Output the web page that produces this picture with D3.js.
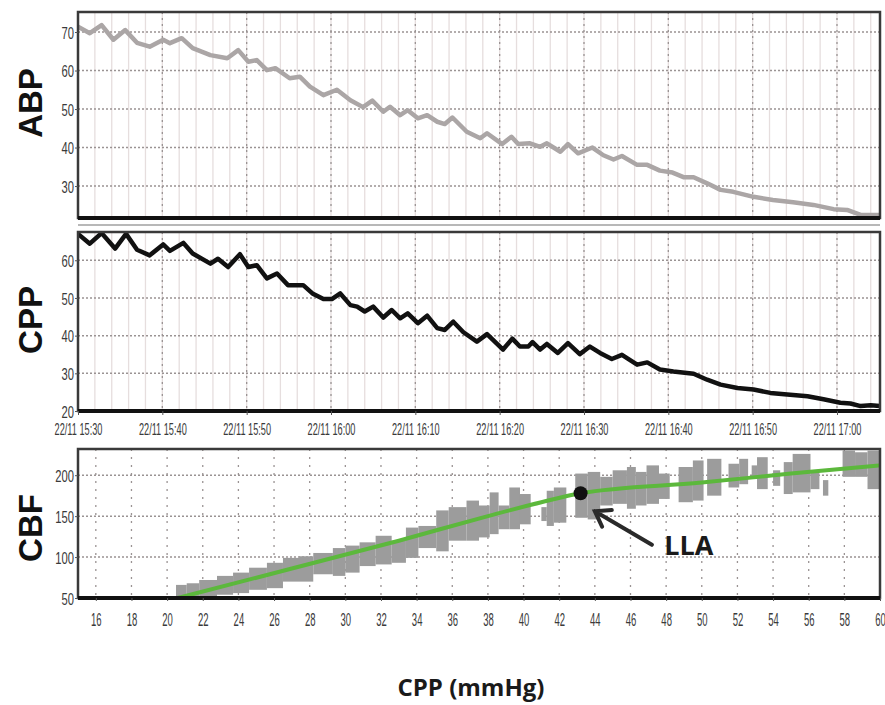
<!DOCTYPE html>
<html>
<head>
<meta charset="utf-8">
<script src="https://cdn.jsdelivr.net/npm/d3@7"></script>
<style>
body { margin: 0; background: #fff; }
svg { display: block; }
.tick text { fill: #3a3a3a; font-family: "Liberation Sans", Arial, sans-serif; }
.tick line { stroke: #555; }
</style>
</head>
<body>
<svg id="chart" width="885" height="705"></svg>
<script>
// monitoring traces + autoregulation curve

// ABP trace, minutes after 22/11 15:30
var abpMin = [0, 1.4, 2.8, 4.2, 5.6, 7.0, 8.5, 10.1, 10.9, 12.3, 13.6, 15.7, 17.7, 19.0, 20.2, 21.2,
    22.4, 23.4, 25.1, 26.3, 27.5, 29.1, 30.7, 32.3, 33.8, 34.9, 36.2, 37.0, 38.2, 39.1, 40.3, 41.4,
    42.6, 43.5, 44.4, 46.1, 47.7, 48.5, 50.3, 51.4, 52.2, 53.6, 54.8, 55.6, 57.2, 58.1, 59.3, 61.0,
    62.3, 63.5, 64.5, 66.3, 67.5, 69.0, 70.5, 71.8, 73.0, 74.6, 76.2, 77.7, 80.1, 82.4, 84.8, 87.2,
    89.6, 91.2, 92.8, 95.1];
var abpVal = [71.4, 69.7, 71.8, 68, 70.5, 67.2, 66.2, 68, 67.1, 68.4, 65.8, 64, 63.2, 65.3, 62.3, 62.7,
    60.1, 60.6, 58, 58.4, 55.8, 53.6, 55, 52.3, 50.5, 52.2, 49.3, 50.6, 48.4, 49.7, 47.6, 48.4,
    46.7, 46.1, 47.8, 44.1, 42.4, 43.7, 40.9, 42.8, 40.9, 41.1, 40.2, 41.1, 38.9, 40.9, 38.5, 40,
    38, 36.9, 37.8, 35.5, 35.5, 34, 33.5, 32.3, 32.3, 30.7, 29, 28.5, 27.2, 26.4, 25.8, 25.1,
    24, 23.8, 22.5, 22.5];

// CPP trace, minutes after 22/11 15:30
var cppMin = [0, 1.4, 2.8, 4.4, 5.7, 7.0, 8.5, 10.1, 10.9, 12.5, 13.6, 15.7, 16.6, 17.8, 19.2, 20.2,
    21.2, 22.4, 23.6, 24.9, 26.7, 27.8, 29.1, 30.1, 31.1, 32.3, 33.1, 34.0, 35.0, 36.2, 37.2, 38.2,
    39.1, 40.3, 41.4, 42.6, 43.5, 44.5, 45.7, 47.3, 48.5, 50.4, 51.5, 52.4, 53.4, 53.9, 54.8, 55.6,
    56.9, 58.1, 59.5, 60.7, 61.9, 63.3, 64.5, 66.3, 67.5, 69.0, 70.6, 72.2, 73.0, 74.6, 76.2, 78.2,
    80.1, 82.1, 84.1, 86.5, 88.4, 90.4, 91.6, 92.8, 94.0, 95.1];
var cppVal = [67, 64.4, 67.2, 63.1, 67, 62.8, 61.3, 64.2, 62.5, 64.6, 61.8, 59.1, 60.4, 58.2, 61.6, 58.2,
    58.7, 55.2, 56.5, 53.4, 53.4, 51.2, 49.7, 49.7, 51.2, 48.1, 47.7, 46.4, 47.7, 44.8, 46.8, 44.6,
    45.9, 43.3, 45.3, 42, 41.5, 43.7, 40.9, 38.4, 40.4, 36.3, 39.2, 37.1, 37.1, 38.3, 36.3, 37.8,
    35.4, 38, 35.1, 37.1, 35.4, 33.8, 34.9, 32.3, 32.9, 31, 30.5, 30.1, 29.9, 28.3, 27, 26.1,
    25.7, 24.8, 24.4, 23.9, 23.1, 22.2, 22, 21.3, 21.5, 21.3];

// CBF vs CPP blocks (CPP from/to, CBF low/high)
var cbfFrom = [20.5, 21.1, 21.8, 22.8, 23.7, 24.6, 25.6, 26.5, 27.4, 28.2, 29.3, 30.0, 30.8, 31.7, 32.6, 33.4,
    34.1, 35.1, 35.8, 36.8, 37.5, 38.1, 38.6, 39.2, 39.8, 41.0, 41.3, 41.7, 42.9, 43.6, 44.3, 45.0,
    45.8, 46.3, 46.9, 47.6, 48.7, 49.5, 50.3, 51.5, 52.1, 52.8, 53.1, 54.0, 54.6, 55.1, 56.1, 56.8,
    57.9, 58.6, 59.3];
var cbfTo = [21.1, 21.8, 22.8, 23.7, 24.6, 25.6, 26.5, 27.4, 28.2, 29.3, 30.0, 30.8, 31.7, 32.6, 33.4, 34.1,
    35.1, 35.8, 36.8, 37.5, 38.1, 38.6, 39.2, 39.8, 40.4, 41.3, 41.7, 42.4, 43.6, 44.3, 45.0, 45.8,
    46.3, 46.9, 47.6, 48.2, 49.5, 50.1, 51.1, 52.1, 52.6, 53.1, 53.7, 54.4, 55.1, 56.1, 56.6, 57.1,
    58.6, 59.3, 60.0];
var cbfLow = [48, 50, 52, 54, 56, 60, 62, 70, 70, 79, 77, 81, 89, 91, 93, 99,
    111, 107, 120, 120, 124, 128, 134, 134, 140, 144, 138, 142, 148, 146, 163, 165,
    159, 163, 165, 171, 167, 169, 175, 185, 189, 198, 183, 187, 177, 179, 183, 175,
    198, 198, 183];
var cbfHigh = [66, 68, 72, 77, 81, 87, 93, 99, 101, 105, 111, 114, 118, 126, 120, 136,
    138, 157, 161, 169, 163, 179, 163, 185, 177, 161, 181, 185, 202, 204, 198, 206,
    210, 204, 212, 202, 210, 218, 220, 214, 220, 212, 222, 206, 216, 226, 204, 194,
    230, 228, 230];

// fitted curve
var fitCpp = [20.6, 27, 33, 38, 41, 43.2, 50, 55, 60];
var fitCbf = [50, 86, 120, 150, 167, 178, 191, 202, 212];
var llaPoint = [43.2, 178];

var abpTicks = [30, 40, 50, 60, 70],
    cppTicks = [20, 30, 40, 50, 60],
    cbfTicks = [50, 100, 150, 200],
    cppAxisTicks = d3.range(16, 61, 2);

var svg = d3.select("#chart"),
    left = 78,
    right = 880;

var base = new Date(2021, 10, 22, 15, 30);
function toTime(m) { return new Date(base.getTime() + m * 60000); }

var x = d3.scaleTime().domain([toTime(0), toTime(95.1)]).range([left, right]);
var yAbp = d3.scaleLinear().domain([21.7, 75.2]).range([218, 12]);
var yCpp = d3.scaleLinear().domain([20, 67.5]).range([411, 232]);
var xCbf = d3.scaleLinear().domain([15, 60]).range([left, right]);
var yCbf = d3.scaleLinear().domain([50, 232]).range([598, 449]);

function drawFrame(g, y0, y1) {
    g.append("rect")
        .attr("x", left).attr("y", y0)
        .attr("width", right - left).attr("height", y1 - y0)
        .attr("fill", "none")
        .attr("stroke", "#3a3a3a")
        .attr("stroke-width", 2.5);
    g.append("line")
        .attr("x1", left).attr("x2", right)
        .attr("y1", y1).attr("y2", y1)
        .attr("stroke", "#111")
        .attr("stroke-width", 4);
}

function leftAxis(g, yScale, ticks) {
    var ax = g.append("g")
        .attr("transform", "translate(" + left + ",0)")
        .call(d3.axisLeft(yScale).tickValues(ticks).tickSize(3).tickSizeOuter(0));
    ax.select(".domain").remove();
    ax.selectAll("text")
        .attr("x", 0)
        .attr("dy", "0.36em")
        .attr("font-size", 17)
        .attr("transform", "translate(-4,0) scale(0.66,1)");
}

function timePanel(yScale, ticks, mins, vals, color, id) {
    var y0 = yScale.range()[1], y1 = yScale.range()[0];
    var g = svg.append("g");

    g.append("clipPath").attr("id", id)
        .append("rect")
        .attr("x", left).attr("y", y0)
        .attr("width", right - left).attr("height", y1 - y0);

    // minor verticals every 2 min
    g.selectAll(".minor")
        .data(x.ticks(d3.timeMinute.every(2)))
        .enter().append("line")
        .attr("x1", function(d) { return x(d); })
        .attr("x2", function(d) { return x(d); })
        .attr("y1", y0).attr("y2", y1)
        .attr("stroke", "#e6dede")
        .attr("stroke-width", 1.3);

    // major verticals every 10 min
    g.selectAll(".major")
        .data(x.ticks(d3.timeMinute.every(10)))
        .enter().append("line")
        .attr("x1", function(d) { return x(d); })
        .attr("x2", function(d) { return x(d); })
        .attr("y1", y0).attr("y2", y1)
        .attr("stroke", "#9a9393")
        .attr("stroke-width", 1.3)
        .attr("stroke-dasharray", "2,4");

    g.selectAll(".hgrid")
        .data(ticks)
        .enter().append("line")
        .attr("x1", left).attr("x2", right)
        .attr("y1", function(d) { return yScale(d); })
        .attr("y2", function(d) { return yScale(d); })
        .attr("stroke", "#9a9393")
        .attr("stroke-width", 1.5)
        .attr("stroke-dasharray", "2,2");

    var line = d3.line()
        .x(function(d) { return x(toTime(d[0])); })
        .y(function(d) { return yScale(d[1]); });

    g.append("path")
        .datum(mins.map(function(m, i) { return [m, vals[i]]; }))
        .attr("clip-path", "url(#" + id + ")")
        .attr("d", line)
        .attr("fill", "none")
        .attr("stroke", color)
        .attr("stroke-width", 4.5)
        .attr("stroke-linejoin", "round");

    drawFrame(g, y0, y1);
    leftAxis(g, yScale, ticks);
    return g;
}

timePanel(yAbp, abpTicks, abpMin, abpVal, "#aba6a6", "clipAbp");

svg.append("line")
    .attr("x1", left).attr("x2", right)
    .attr("y1", 225).attr("y2", 225)
    .attr("stroke", "#a0a0a0")
    .attr("stroke-width", 1.5);

var mid = timePanel(yCpp, cppTicks, cppMin, cppVal, "#111", "clipCpp");

// time axis
var tAx = mid.append("g")
    .attr("transform", "translate(0,411)")
    .call(d3.axisBottom(x)
        .ticks(d3.timeMinute.every(10))
        .tickFormat(d3.timeFormat("%d/%m %H:%M"))
        .tickSize(4).tickSizeOuter(0));
tAx.select(".domain").remove();
tAx.selectAll("text")
    .attr("y", 12)
    .attr("font-size", 17)
    .attr("transform", "scale(0.54,1)");

// CBF panel
var gb = svg.append("g");
var by0 = 449, by1 = 598;

gb.selectAll(".vgrid")
    .data(cppAxisTicks)
    .enter().append("line")
    .attr("x1", function(d) { return xCbf(d); })
    .attr("x2", function(d) { return xCbf(d); })
    .attr("y1", by0).attr("y2", by1)
    .attr("stroke", "#9a9393")
    .attr("stroke-width", 1.3)
    .attr("stroke-dasharray", "2,6");

gb.selectAll(".hgrid")
    .data(cbfTicks)
    .enter().append("line")
    .attr("x1", left).attr("x2", right)
    .attr("y1", function(d) { return yCbf(d); })
    .attr("y2", function(d) { return yCbf(d); })
    .attr("stroke", "#9a9393")
    .attr("stroke-width", 1.5)
    .attr("stroke-dasharray", "2,2");

gb.selectAll(".blk")
    .data(cbfFrom.map(function(f, i) { return {f: f, t: cbfTo[i], lo: cbfLow[i], hi: cbfHigh[i]}; }))
    .enter().append("rect")
    .attr("x", function(d) { return xCbf(d.f); })
    .attr("width", function(d) { return xCbf(d.t) - xCbf(d.f); })
    .attr("y", function(d) { return yCbf(Math.min(d.hi, 231)); })
    .attr("height", function(d) { return yCbf(d.lo) - yCbf(Math.min(d.hi, 231)); })
    .attr("fill", "#9c9c9c");

gb.append("path")
    .datum(fitCpp.map(function(c, i) { return [c, fitCbf[i]]; }))
    .attr("d", d3.line()
        .curve(d3.curveMonotoneX)
        .x(function(d) { return xCbf(d[0]); })
        .y(function(d) { return yCbf(d[1]); }))
    .attr("fill", "none")
    .attr("stroke", "#5cb83c")
    .attr("stroke-width", 4);

gb.append("circle")
    .attr("cx", xCbf(llaPoint[0]))
    .attr("cy", yCbf(llaPoint[1]))
    .attr("r", 7)
    .attr("fill", "#111");

drawFrame(gb, by0, by1);
leftAxis(gb, yCbf, cbfTicks);

var cAx = gb.append("g")
    .attr("transform", "translate(0," + by1 + ")")
    .call(d3.axisBottom(xCbf).tickValues(cppAxisTicks).tickSize(3).tickSizeOuter(0));
cAx.select(".domain").remove();
cAx.selectAll("text")
    .attr("y", 15)
    .attr("font-size", 19)
    .attr("transform", "scale(0.5,1)");

// LLA arrow + label
var tipX = xCbf(44.0), tipY = yCbf(156),
    tailX = xCbf(47.2), tailY = yCbf(115);
var ang = Math.atan2(tailY - tipY, tailX - tipX);
var arm = 17;
gb.append("path")
    .attr("d", "M" + tailX + "," + tailY + "L" + tipX + "," + tipY +
        "M" + (tipX + arm * Math.cos(ang - 0.6)) + "," + (tipY + arm * Math.sin(ang - 0.6)) +
        "L" + tipX + "," + tipY +
        "L" + (tipX + arm * Math.cos(ang + 0.6)) + "," + (tipY + arm * Math.sin(ang + 0.6)))
    .attr("fill", "none")
    .attr("stroke", "#2a2a2a")
    .attr("stroke-width", 4)
    .attr("stroke-linecap", "round");

gb.append("text")
    .attr("x", xCbf(47.9))
    .attr("y", yCbf(102))
    .attr("font-family", "'Open Sans', 'Liberation Sans', sans-serif")
    .attr("font-weight", "bold")
    .attr("font-size", 27)
    .attr("fill", "#1a1a1a")
    .text("LLA");

// panel titles
[["ABP", 103], ["CPP", 320], ["CBF", 528]].forEach(function(t) {
    svg.append("text")
        .attr("transform", "translate(42," + t[1] + ") rotate(-90)")
        .attr("text-anchor", "middle")
        .attr("font-family", "'Liberation Sans', Arial, sans-serif")
        .attr("font-weight", "bold")
        .attr("font-size", 33)
        .attr("fill", "#111")
        .text(t[0]);
});

svg.append("text")
    .attr("x", 471)
    .attr("y", 696)
    .attr("text-anchor", "middle")
    .attr("font-family", "'Open Sans', 'Liberation Sans', sans-serif")
    .attr("font-weight", "bold")
    .attr("font-size", 24)
    .attr("fill", "#1a1a1a")
    .text("CPP (mmHg)");
</script>
</body>
</html>
